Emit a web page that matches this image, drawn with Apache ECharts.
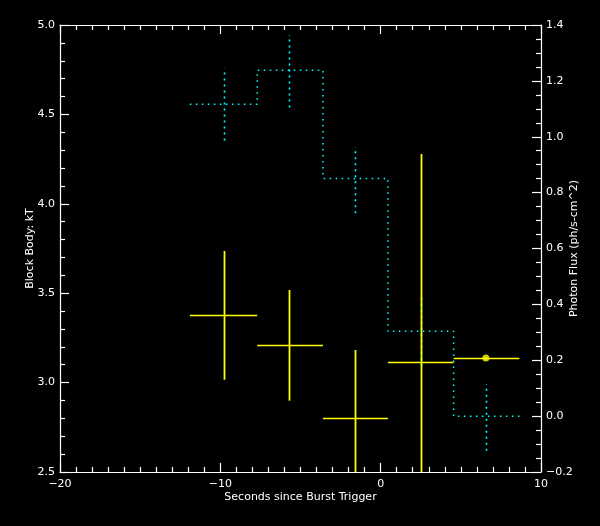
<!DOCTYPE html>
<html>
<head>
<meta charset="utf-8">
<script src="https://cdn.jsdelivr.net/npm/echarts@6/dist/echarts.min.js"></script>
<style>html,body{margin:0;padding:0;background:#000;}#c{width:600px;height:526px;}</style>
</head>
<body>
<div id="c"></div>
<script>
// Bin edges (seconds since burst trigger)
const binEdges = [-11.9, -7.7, -3.6, 0.45, 4.55, 8.65];
// Bin centres
const centers = [-9.79, -5.73, -1.61, 2.52, 6.56];
// Black body kT (left axis)
const kT = [3.376, 3.209, 2.80, 3.113, 3.138];
const kTLow = [3.016, 2.899, 2.40, 2.40, null];
const kTHigh = [3.736, 3.518, 3.182, 4.279, null];
// Photon flux (right axis)
const flux = [1.116, 1.238, 0.851, 0.304, 0.0];
const fluxLow = [0.987, 1.105, 0.726, 0.18, -0.124];
const fluxHigh = [1.245, 1.364, 0.963, 0.43, 0.114];

const WHITE = '#ffffff', YELLOW = '#ffff00', CYAN = '#00ffff';
const FONT = 'DejaVu Sans';

// step outline of flux histogram
const stepPts = [];
for (let i = 0; i < flux.length; i++) {
  stepPts.push([binEdges[i], flux[i]]);
  stepPts.push([binEdges[i + 1], flux[i]]);
}

function minus(v, d) {
  const s = d === undefined ? String(v) : v.toFixed(d);
  return s.replace('-', '\u2212');
}

const chart = echarts.init(document.getElementById('c'), null, {renderer: 'canvas'});

function vShape(api, x, y1, y2, off) {
  const p1 = api.coord([x, y1]);
  const p2 = api.coord([x, y2]);
  const xx = Math.round(p1[0]) + off;
  return {x1: xx, y1: p1[1], x2: xx, y2: p2[1]};
}
function hShape(api, x1, x2, y) {
  const p1 = api.coord([x1, y]);
  const p2 = api.coord([x2, y]);
  const yy = Math.round(p1[1]) + 0.5;
  return {x1: p1[0], y1: yy, x2: p2[0], y2: yy};
}

const axisCommon = {
  axisLine: {show: true, onZero: false, lineStyle: {color: WHITE, width: 1.2}},
  axisTick: {show: true, inside: true, length: 9, lineStyle: {color: WHITE, width: 1.2}},
  minorTick: {show: true, length: 5, lineStyle: {color: WHITE, width: 1.2}},
  splitLine: {show: false},
  minorSplitLine: {show: false},
  nameMoveOverlap: false
};

chart.setOption({
  backgroundColor: '#000',
  animation: false,
  grid: {left: 60, right: 59, top: 25, bottom: 54, containLabel: false},
  xAxis: [
    Object.assign({}, axisCommon, {
      type: 'value', position: 'bottom', min: -20, max: 10, interval: 10,
      minorTick: Object.assign({}, axisCommon.minorTick, {splitNumber: 10}),
      axisLabel: {color: WHITE, fontFamily: FONT, fontSize: 11, margin: 7, formatter: v => minus(v)},
      name: 'Seconds since Burst Trigger', nameLocation: 'middle', nameGap: 20,
      nameTextStyle: {color: WHITE, fontFamily: FONT, fontSize: 11}
    }),
    Object.assign({}, axisCommon, {
      type: 'value', position: 'top', min: -20, max: 10, interval: 10,
      minorTick: Object.assign({}, axisCommon.minorTick, {splitNumber: 10}),
      axisLabel: {show: false}
    })
  ],
  yAxis: [
    Object.assign({}, axisCommon, {
      type: 'value', position: 'left', min: 2.5, max: 5.0, interval: 0.5,
      minorTick: Object.assign({}, axisCommon.minorTick, {splitNumber: 5}),
      axisLabel: {color: WHITE, fontFamily: FONT, fontSize: 11, margin: 5, formatter: v => minus(v, 1)},
      name: 'Block Body: kT', nameLocation: 'middle', nameGap: 24, nameRotate: 90,
      nameTextStyle: {color: WHITE, fontFamily: FONT, fontSize: 11}
    }),
    Object.assign({}, axisCommon, {
      type: 'value', position: 'right', min: -0.2, max: 1.4, interval: 0.2,
      minorTick: Object.assign({}, axisCommon.minorTick, {splitNumber: 4}),
      axisLabel: {color: WHITE, fontFamily: FONT, fontSize: 11, margin: 5, formatter: v => minus(v, 1)},
      name: 'Photon Flux (ph/s-cm^2)', nameLocation: 'middle', nameGap: 28, nameRotate: 90,
      nameTextStyle: {color: WHITE, fontFamily: FONT, fontSize: 11}
    })
  ],
  series: [
    {
      type: 'line', xAxisIndex: 0, yAxisIndex: 1, data: stepPts,
      symbol: 'none', lineStyle: {color: CYAN, width: 1.5, type: [1.5, 4.5]}, z: 2
    },
    {
      type: 'custom', xAxisIndex: 0, yAxisIndex: 1, clip: true, z: 2,
      data: centers.map((c, i) => [c, fluxLow[i], fluxHigh[i]]),
      renderItem: function (params, api) {
        return {
          type: 'line',
          shape: vShape(api, api.value(0), api.value(1), api.value(2), 0.5),
          style: {stroke: CYAN, lineWidth: 1.6, lineDash: [2, 4]}
        };
      }
    },
    {
      type: 'custom', xAxisIndex: 0, yAxisIndex: 0, clip: true, z: 5,
      data: centers.map((c, i) => [c, kT[i], kTLow[i] === null ? NaN : kTLow[i], kTHigh[i] === null ? NaN : kTHigh[i], binEdges[i], binEdges[i + 1]]),
      renderItem: function (params, api) {
        const children = [{
          type: 'line',
          shape: hShape(api, api.value(4), api.value(5), api.value(1)),
          style: {stroke: YELLOW, lineWidth: 1.5}
        }];
        const lo = api.value(2), hi = api.value(3);
        if (!isNaN(lo) && !isNaN(hi)) {
          children.push({
            type: 'line',
            shape: vShape(api, api.value(0), lo, hi, 0.5),
            style: {stroke: YELLOW, lineWidth: 1.8}
          });
        }
        return {type: 'group', children: children};
      }
    },
    {
      type: 'scatter', xAxisIndex: 0, yAxisIndex: 0, z: 6,
      data: [[centers[4], kT[4]]],
      symbol: 'circle', symbolSize: 7, itemStyle: {color: YELLOW}
    }
  ]
});
</script>
</body>
</html>
